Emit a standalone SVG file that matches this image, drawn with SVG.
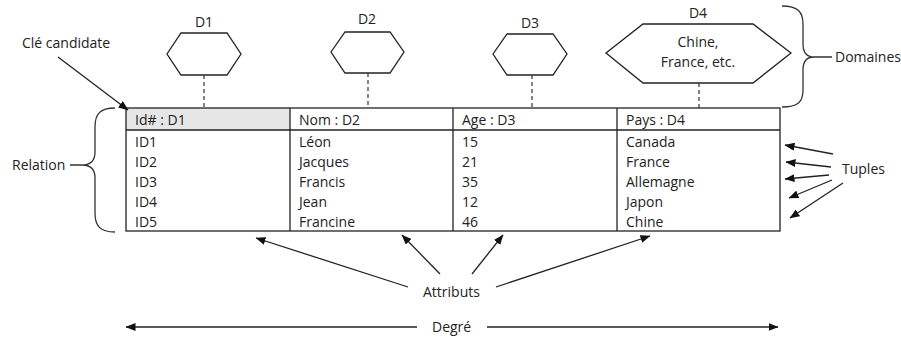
<svg xmlns="http://www.w3.org/2000/svg" width="901" height="337" viewBox="0 0 901 337">
<style>
text{font-family:"Open Sans","Liberation Sans",sans-serif;font-size:14px;fill:#222}
.c{text-anchor:middle}
.ln{stroke:#222;stroke-width:1.3;fill:none}
.dash{stroke:#333;stroke-width:1.2;stroke-dasharray:4 3;fill:none}
.hex{stroke:#222;stroke-width:1.3;fill:#fff}
.brace{stroke:#333;stroke-width:1.3;fill:none}
</style>
<defs>
<marker id="ah" viewBox="0 0 10 8" refX="9.5" refY="4" markerWidth="10" markerHeight="8" markerUnits="userSpaceOnUse" orient="auto">
<path d="M0,0 L10,4 L0,8 Z" fill="#111"/>
</marker>
</defs>
<rect width="901" height="337" fill="#fff"/>

<g id="table">
<rect x="126" y="108" width="164" height="22" fill="#e6e6e6"/>
<rect x="126" y="108" width="654" height="123" class="ln"/>
<line x1="126" y1="130" x2="780" y2="130" class="ln"/>
<line x1="290" y1="108" x2="290" y2="231" class="ln"/>
<line x1="453" y1="108" x2="453" y2="231" class="ln"/>
<line x1="617" y1="108" x2="617" y2="231" class="ln"/>
<text x="135" y="125">Id# : D1</text>
<text x="299" y="125">Nom : D2</text>
<text x="462" y="125">Age : D3</text>
<text x="626" y="125">Pays : D4</text>
<text x="135" y="147">ID1</text><text x="299" y="147">Léon</text><text x="462" y="147">15</text><text x="626" y="147">Canada</text>
<text x="135" y="167">ID2</text><text x="299" y="167">Jacques</text><text x="462" y="167">21</text><text x="626" y="167">France</text>
<text x="135" y="187">ID3</text><text x="299" y="187">Francis</text><text x="462" y="187">35</text><text x="626" y="187">Allemagne</text>
<text x="135" y="207">ID4</text><text x="299" y="207">Jean</text><text x="462" y="207">12</text><text x="626" y="207">Japon</text>
<text x="135" y="227">ID5</text><text x="299" y="227">Francine</text><text x="462" y="227">46</text><text x="626" y="227">Chine</text>
</g>

<g id="d1">
<polygon class="hex" points="167,54 181,33 227,33 241,54 227,75 181,75"/>
<text class="c" x="204" y="27">D1</text>
</g>
<g id="d2">
<polygon class="hex" points="331,52 345,32 390,32 404,52 390,73 345,73"/>
<text class="c" x="367" y="24">D2</text>
</g>
<g id="d3">
<polygon class="hex" points="493,54 507,34 553,34 567,54 553,75 507,75"/>
<text class="c" x="530" y="28">D3</text>
</g>
<g id="d4">
<polygon class="hex" points="606,53 643,24 753,24 791,53 753,83 643,83"/>
<text class="c" x="698" y="18">D4</text>
<text class="c" x="698" y="47">Chine,</text>
<text class="c" x="698" y="67">France, etc.</text>
</g>

<g id="labels">
<text x="22" y="48">Clé candidate</text>
<text x="12" y="170">Relation</text>
<text x="835" y="62">Domaines</text>
<text x="842" y="174">Tuples</text>
<text x="423" y="297">Attributs</text>
<text x="432" y="332">Degré</text>
</g>

<g id="connectors">
<line class="dash" x1="204" y1="75" x2="204" y2="108"/>
<line class="dash" x1="368" y1="73" x2="368" y2="108"/>
<line class="dash" x1="532" y1="75" x2="532" y2="108"/>
<line class="dash" x1="699" y1="83" x2="699" y2="108"/>
<path class="brace" d="M782,6 C798,6 803,12 803,24 L803,44 C803,53 807,57 814,57 L832,57 M814,57 C807,57 803,61 803,70 L803,90 C803,102 798,107 782,107"/>
<path class="brace" d="M115,108 C100,108 95,114 95,127 L95,152 C95,161 90,165 82,165 L70,165 M82,165 C90,165 95,169 95,178 L95,213 C95,226 100,232 115,232"/>
<line class="ln" x1="58" y1="57" x2="128" y2="110" marker-end="url(#ah)"/>
<line class="ln" x1="833" y1="154" x2="785" y2="145" marker-end="url(#ah)"/>
<line class="ln" x1="831" y1="167" x2="786" y2="162" marker-end="url(#ah)"/>
<line class="ln" x1="829" y1="175" x2="785" y2="179" marker-end="url(#ah)"/>
<line class="ln" x1="832" y1="180" x2="789" y2="198" marker-end="url(#ah)"/>
<line class="ln" x1="843" y1="183" x2="790" y2="218" marker-end="url(#ah)"/>
<line class="ln" x1="408" y1="287" x2="256" y2="238" marker-end="url(#ah)"/>
<line class="ln" x1="440" y1="274" x2="402" y2="235" marker-end="url(#ah)"/>
<line class="ln" x1="472" y1="274" x2="503" y2="235" marker-end="url(#ah)"/>
<line class="ln" x1="496" y1="287" x2="650" y2="236" marker-end="url(#ah)"/>
<line class="ln" x1="417" y1="327" x2="126" y2="327" marker-end="url(#ah)"/>
<line class="ln" x1="487" y1="327" x2="778" y2="327" marker-end="url(#ah)"/>
</g>
</svg>
